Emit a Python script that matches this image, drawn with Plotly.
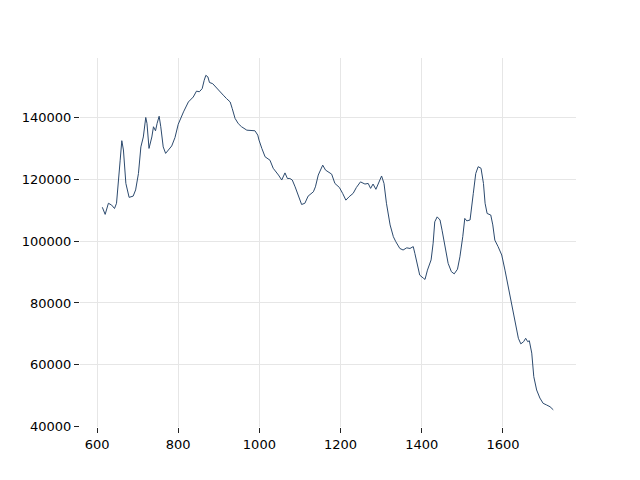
import plotly.graph_objects as go

wavenumber = [613, 617, 620, 628, 636, 643, 648, 657, 661, 665, 671, 679, 689, 695, 702, 708, 714,
              720, 723, 728, 735, 739, 744, 748, 753, 757, 763, 769, 776, 784, 792, 800, 813, 825,
              837, 845, 852, 859, 864, 868, 873, 877, 885, 895, 903, 911, 919, 928, 933, 940, 948,
              956, 969, 981, 989, 996, 999, 1006, 1014, 1026, 1034, 1047, 1055, 1063, 1069, 1075,
              1081, 1088, 1096, 1104, 1112, 1120, 1133, 1138, 1145, 1156, 1163, 1174, 1178, 1186,
              1197, 1205, 1213, 1221, 1231, 1239, 1249, 1260, 1268, 1274, 1280, 1287, 1295, 1301,
              1307, 1313, 1322, 1330, 1336, 1346, 1354, 1363, 1371, 1379, 1383, 1390, 1395, 1404,
              1408, 1414, 1423, 1428, 1432, 1438, 1445, 1450, 1457, 1465, 1473, 1480, 1488, 1494,
              1501, 1506, 1511, 1519, 1527, 1533, 1539, 1546, 1552, 1556, 1561, 1570, 1575, 1580,
              1588, 1597, 1605, 1613, 1622, 1630, 1638, 1644, 1651, 1656, 1661, 1665, 1671, 1676,
              1683, 1691, 1699, 1707, 1716, 1724]

intensity = [110900, 109800, 108600, 112200, 111600, 110500, 112200, 126100, 132400, 129400, 118600,
             114100, 114500, 116500, 121800, 130400, 133600, 139900, 138000, 129900, 133600, 136900,
             135600, 138000, 140300, 136900, 130400, 128300, 129400, 130700, 133400, 137700, 141700,
             144900, 146500, 148400, 148200, 149200, 151900, 153500, 153000, 151200, 150800, 149500,
             148200, 147100, 146000, 144900, 142800, 139600, 137900, 136900, 135800, 135800, 135600,
             134200, 132600, 129900, 127200, 126100, 123500, 121300, 119700, 122000, 120200, 120200,
             119700, 117500, 114300, 111800, 112200, 114500, 115900, 117500, 121300, 124500, 122900,
             122000, 121600, 118600, 117300, 115400, 113200, 114300, 115400, 117300, 119100, 118400,
             118600, 117000, 118400, 116700, 119100, 121000, 118600, 112200, 105200, 101400, 99800,
             97600, 97100, 97800, 97600, 98200, 96000, 91700, 89000, 88000, 87600, 90600, 93900,
             99300, 106200, 107800, 106800, 103500, 98200, 92800, 90100, 89400, 90900, 94900, 101400,
             107300, 106500, 106800, 115400, 121800, 124000, 123500, 118600, 112200, 108900, 108400,
             105200, 100300, 98200, 95500, 90600, 85300, 79900, 73500, 68600, 66800, 67500, 68600,
             67500, 67800, 63800, 56200, 51900, 49300, 47600, 47100, 46500, 45500]

x_ticks = [600, 800, 1000, 1200, 1400, 1600]
y_ticks = [40000, 60000, 80000, 100000, 120000, 140000]

fig = go.Figure()
fig.add_trace(go.Scatter(x=wavenumber, y=intensity, mode="lines",
                         line=dict(color="#2c4a6e", width=1), showlegend=False))

axis_common = dict(showline=False, zeroline=False, showgrid=True, gridcolor="#e6e6e6",
                   gridwidth=1, ticks="outside", ticklen=5, tickwidth=1, tickcolor="#222222",
                   tickfont=dict(family="DejaVu Sans", size=13, color="#000000"))

fig.update_layout(
    width=640, height=480,
    margin=dict(l=72, r=72, t=50, b=61),
    paper_bgcolor="white", plot_bgcolor="white",
    xaxis=dict(range=[558, 1780], tickvals=x_ticks, ticktext=[str(v) for v in x_ticks], **axis_common),
    yaxis=dict(range=[39950, 159100], tickvals=y_ticks, ticktext=[str(v) for v in y_ticks], **axis_common),
)

fig.write_html("out.html")
